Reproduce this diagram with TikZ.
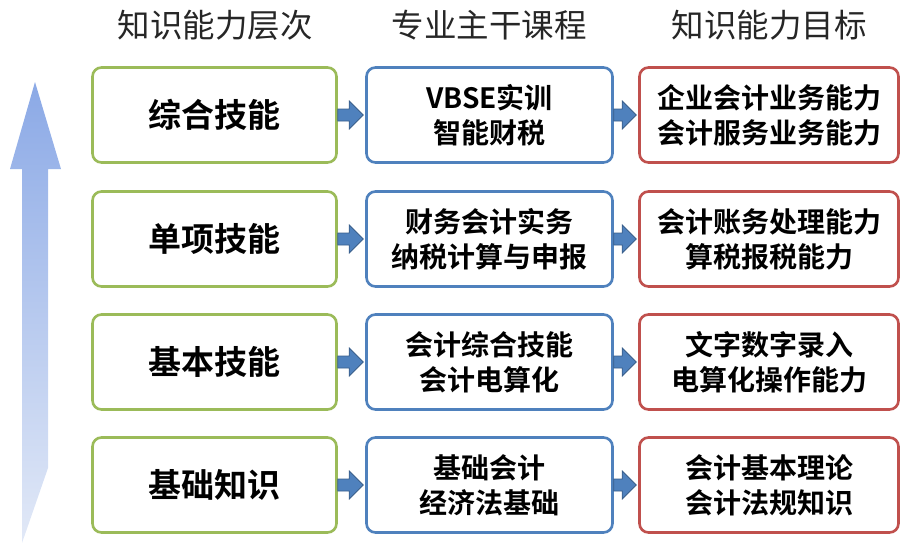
\documentclass[tikz,border=0pt]{standalone}
\usepackage{fontspec}
\newfontfamily\cjk{Noto Sans CJK SC}
\newfontfamily\cjkb{Noto Sans CJK SC Bold}
\usetikzlibrary{calc}
\definecolor{gbox}{HTML}{9BBB59}
\definecolor{bbox}{HTML}{4F81BD}
\definecolor{rbox}{HTML}{C0504D}
\definecolor{arrfill}{HTML}{4F81BD}
\definecolor{arrline}{HTML}{385D8A}
\definecolor{bigtop}{HTML}{8BA9E6}
\definecolor{bigbot}{HTML}{E2E9F7}
\tikzset{
  box/.style={draw, line width=2.6pt, rounded corners=9pt, fill=white,
    minimum height=95pt, align=center, inner sep=0pt},
  gnode/.style={box, draw=gbox, minimum width=244pt, font=\cjkb\fontsize{33}{38}\selectfont},
  bnode/.style={box, draw=bbox, minimum width=246pt, font=\cjkb\fontsize{28}{35}\selectfont},
  rnode/.style={box, draw=rbox, minimum width=259pt, font=\cjkb\fontsize{28}{35}\selectfont},
  head/.style={font=\cjk\fontsize{32.5}{36}\selectfont, text=black!85},
  barrow/.style={fill=arrfill, draw=arrline, line width=0.8pt, line join=miter}
}
\newcommand\blockarr[2]{%
  \draw[barrow] let \p1=(#1.east), \p2=(#2.west) in
    (\x1,\y1+6pt) -- (\x2-16pt,\y1+6pt) -- (\x2-16pt,\y1+14pt) -- (\x2-2pt,\y1)
    -- (\x2-16pt,\y1-14pt) -- (\x2-16pt,\y1-6pt) -- (\x1,\y1-6pt) -- cycle;}
\begin{document}
\begin{tikzpicture}[x=1pt,y=-1pt]
\useasboundingbox (0,0) rectangle (902,544);
% big arrow
\shade[top color=bigtop, bottom color=bigbot]
  (35,82) -- (61,169) -- (48,169) -- (48,468) -- (22,543) -- (22,169) -- (10,169) -- cycle;
% headers
\node[head] (h1) at (215,25) {知识能力层次};
\node[head] (h2) at (489,25) {专业主干课程};
\node[head] (h3) at (769,25) {知识能力目标};
% rows
\foreach \i/\y/\ga/\bb/\rc in {
  1/115/综合技能/{VBSE实训\\智能财税}/{企业会计业务能力\\会计服务业务能力},
  2/239/单项技能/{财务会计实务\\纳税计算与申报}/{会计账务处理能力\\算税报税能力},
  3/362/基本技能/{会计综合技能\\会计电算化}/{文字数字录入\\电算化操作能力},
  4/485/基础知识/{基础会计\\经济法基础}/{会计基本理论\\会计法规知识}} {
  \node[gnode] (g\i) at (214.5,\y) {\ga};
  \node[bnode] (b\i) at (489.5,\y) {\bb};
  \node[rnode] (r\i) at (769,\y) {\rc};
  \blockarr{g\i}{b\i}
  \blockarr{b\i}{r\i}
}
\end{tikzpicture}
\end{document}
